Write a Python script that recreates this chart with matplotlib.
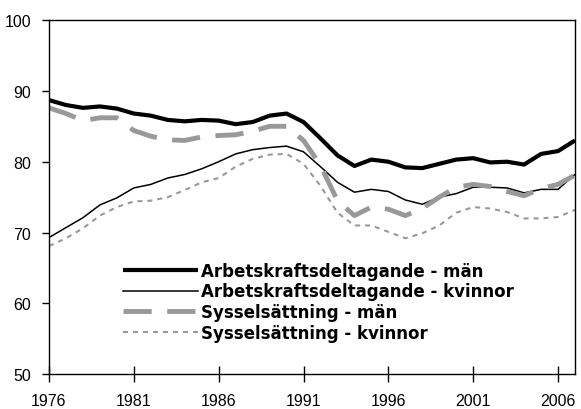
import matplotlib
matplotlib.use("Agg")
import matplotlib.pyplot as plt

# år och serier (procent)
years = list(range(1976, 2008))

akt_man = [88.7, 88.0, 87.6, 87.8, 87.5, 86.8, 86.5, 85.9, 85.7, 85.9,
           85.8, 85.3, 85.6, 86.5, 86.8, 85.6, 83.3, 80.9, 79.4, 80.3,
           80.0, 79.2, 79.1, 79.7, 80.3, 80.5, 79.9, 80.0, 79.6, 81.1,
           81.5, 83.0]
akt_kvinnor = [69.3, 70.7, 72.1, 73.9, 74.9, 76.3, 76.8, 77.7, 78.2, 79.0,
               80.0, 81.1, 81.7, 82.0, 82.2, 81.4, 79.3, 77.1, 75.7, 76.1,
               75.8, 74.6, 74.0, 75.0, 75.5, 76.4, 76.4, 76.3, 75.6, 76.1,
               76.1, 78.2]
syss_man = [87.6, 86.8, 85.8, 86.2, 86.2, 84.4, 83.6, 83.1, 83.0, 83.5,
            83.7, 83.8, 84.3, 85.0, 85.0, 83.0, 79.5, 74.5, 72.4, 73.6,
            73.3, 72.4, 73.4, 75.0, 76.4, 76.8, 76.5, 75.8, 75.2, 76.2,
            76.8, 78.1]
syss_kvinnor = [68.1, 69.2, 70.6, 72.4, 73.6, 74.4, 74.5, 75.0, 76.0, 77.1,
                77.7, 79.3, 80.4, 81.0, 81.1, 79.7, 76.6, 72.8, 71.0, 71.0,
                70.1, 69.2, 69.9, 71.0, 72.8, 73.6, 73.4, 72.9, 72.0, 72.0,
                72.2, 73.2]

labels = ["Arbetskraftsdeltagande - män",
          "Arbetskraftsdeltagande - kvinnor",
          "Sysselsättning - män",
          "Sysselsättning - kvinnor"]

x_ticks = [1976, 1981, 1986, 1991, 1996, 2001, 2006]
y_ticks = [50, 60, 70, 80, 90, 100]

gray = "#999999"

fig = plt.figure(figsize=(5.81, 4.10), dpi=100)
ax = fig.add_axes([49 / 581, 34.7 / 410, 526 / 581, 354.3 / 410])

ax.plot(years, akt_man, color="black", lw=3.0, solid_capstyle="butt", label=labels[0])
ax.plot(years, akt_kvinnor, color="black", lw=1.1, label=labels[1])
ax.plot(years, syss_man, color=gray, lw=3.5, dashes=(5.8, 3.2), label=labels[2])
ax.plot(years, syss_kvinnor, color=gray, lw=1.5, dashes=(2.4, 2.4), label=labels[3])

ax.set_xlim(1976, 2007)
ax.set_ylim(50, 100)
ax.set_xticks(x_ticks)
ax.set_yticks(y_ticks)

for s in ax.spines.values():
    s.set_linewidth(1.0)
    s.set_color("black")

ax.tick_params(axis="x", direction="inout", length=11, width=1, pad=8)
ax.tick_params(axis="y", direction="out", length=5, width=1, pad=8)
for lab in ax.get_xticklabels() + ax.get_yticklabels():
    lab.set_fontfamily("Liberation Sans")
    lab.set_fontsize(11.5)

leg = ax.legend(loc="upper left", bbox_to_anchor=(0.14, 0.318), frameon=False,
                handlelength=4.5, handletextpad=0.2, labelspacing=0.17,
                borderpad=0, borderaxespad=0,
                prop={"family": "DejaVu Sans", "weight": "bold", "size": 12})

fig.savefig("out.png", dpi=100)
